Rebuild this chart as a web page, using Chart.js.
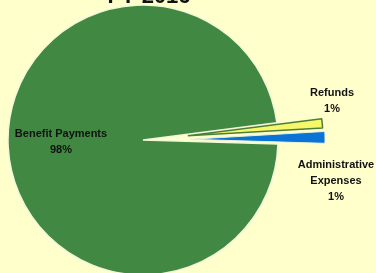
<!DOCTYPE html>
<html>
<head>
<meta charset="utf-8">
<script src="https://cdn.jsdelivr.net/npm/chart.js@4/dist/chart.umd.min.js"></script>
<style>
  html, body { margin: 0; padding: 0; background: #FFFFCC; }
  #wrap { width: 376px; height: 273px; overflow: hidden; }
</style>
</head>
<body>
<div id="wrap"><canvas id="chart" width="376" height="273"></canvas></div>
<script>
// data
const categories = ['Benefit Payments', 'Refunds', 'Administrative Expenses']
const values = [97.5, 1.1, 1.4]
const pctLabels = ['98%', '1%', '1%']
const titleText = 'FY 2016'

const font = '"Liberation Sans Narrow", "Arial Narrow", Arial, sans-serif'
// how far each slice is pulled out, px
const pull = [0, 45, 47]

/* pulled-out slices: shift each arc along its mid angle, keep its size */
const explodePlugin = {
  id: 'explode',
  beforeDatasetDraw(chart, args) {
    const ctx = chart.ctx
    args.meta.data.forEach((arc, i) => {
      const mid = (arc.startAngle + arc.endAngle) / 2
      ctx.save()
      ctx.translate(Math.cos(mid) * pull[i], Math.sin(mid) * pull[i])
      arc.draw(ctx, chart.chartArea)
      ctx.restore()
    })
    return false
  }
}

/* labels + clipped title */
const labelPlugin = {
  id: 'labels',
  afterDraw(chart) {
    const ctx = chart.ctx
    const arcs = chart.getDatasetMeta(0).data
    const cx = arcs[0].x, cy = arcs[0].y
    const spots = [
      { dx: -82, dy: -6, lines: ['Benefit Payments', pctLabels[0]] },
      { dx: 189, dy: -47, lines: ['Refunds', pctLabels[1]] },
      { dx: 193, dy: 25, lines: ['Administrative', 'Expenses', pctLabels[2]] }
    ]
    ctx.save()
    ctx.fillStyle = '#111'
    ctx.font = 'bold 11px ' + font
    ctx.textAlign = 'center'
    ctx.textBaseline = 'middle'
    spots.forEach(s => {
      s.lines.forEach((t, i) => {
        ctx.fillText(t, cx + s.dx, cy + s.dy + i * 16)
      })
    })
    ctx.font = 'bold 22px ' + font
    ctx.textBaseline = 'alphabetic'
    ctx.fillText(titleText, 149, 3)
    ctx.restore()
  }
}

new Chart(document.getElementById('chart'), {
  type: 'pie',
  data: {
    labels: categories,
    datasets: [{
      data: values,
      backgroundColor: ['#418843', '#F7F76A', '#0A74D6'],
      borderColor: ['#F4F7D8', '#4C7F3C', '#E8F0D8'],
      borderWidth: [1.5, 1.5, 1]
    }]
  },
  options: {
    responsive: false,
    animation: false,
    rotation: 91.7,
    radius: 135,
    layout: { padding: { left: 0, right: 90, top: 7, bottom: 0 } },
    plugins: {
      legend: { display: false },
      tooltip: { enabled: false }
    }
  },
  plugins: [explodePlugin, labelPlugin]
})
</script>
</body>
</html>
